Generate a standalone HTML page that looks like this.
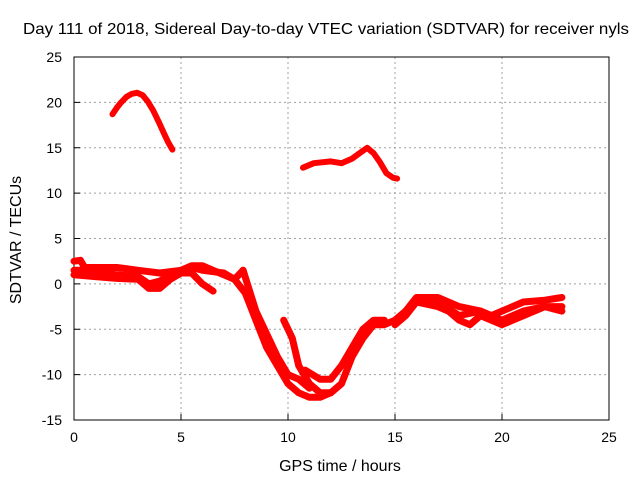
<!DOCTYPE html>
<html><head><meta charset="utf-8"><style>
body{margin:0;background:#fff;font-family:"Liberation Sans",sans-serif}
svg text{font-family:"Liberation Sans",sans-serif;font-size:14px;fill:#000}
</style></head><body>
<svg id="chart" width="640" height="480" viewBox="0 0 640 480">
<rect width="640" height="480" fill="#fff"/>
<g id="grid"></g><g id="axes"></g><g id="series"></g>
<text x="326" y="34" text-anchor="middle" style="font-size:16px" textLength="606" lengthAdjust="spacingAndGlyphs">Day 111 of 2018, Sidereal Day-to-day VTEC variation (SDTVAR) for receiver nyls</text>
<text x="340" y="471" text-anchor="middle" style="font-size:16px">GPS time / hours</text>
<text transform="translate(21,240) rotate(-90)" text-anchor="middle" style="font-size:16px">SDTVAR / TECUs</text>
</svg>
<script>
const xTicks=[0,5,10,15,20,25];
const yTicks=[25,20,15,10,5,0,-5,-10,-15];
const seriesA=[[0,1.5],[0.5,1.5],[1,1.2],[2,1],[3,0.8],[3.5,0],[4,0.3],[4.5,1],[5,1.5],[5.5,1.8],[6,1.5],[7,1.2],[7.5,0.5],[8,-1],[8.5,-4],[9,-7],[9.5,-9],[10,-11],[10.5,-12],[11,-12.5],[11.5,-12.5],[12,-12],[12.5,-11],[13,-8],[13.5,-6],[14,-4.5],[14.5,-4.5],[15,-4],[15.5,-3],[16,-1.8],[17,-2],[18,-3.5],[19,-3],[20,-4],[21,-3],[22,-2.5],[22.8,-2.5]];
const seriesB=[[0,2.5],[0.3,2.6],[0.5,1.8],[1,1.8],[2,1.8],[3,1.5],[4,1.2],[5,1.5],[5.5,2],[6,2],[6.5,1.5],[7,1],[7.5,0.5],[7.9,1.5]];
const seriesC=[[0,1],[1,0.8],[2,0.6],[3,0.5],[3.5,-0.5],[4,-0.5],[4.5,0.5],[5,1.2],[5.5,1.2],[6,0],[6.5,-0.8]];
const seriesD=[[7.9,1.5],[8.5,-3],[9,-5.5],[9.5,-8],[10,-10],[10.5,-10.5],[11,-11.5]];
const seriesE=[[9.8,-4],[10.2,-6],[10.5,-9],[11,-11],[11.5,-12],[12,-12]];
const seriesF=[[10.8,-9.5],[11.5,-10.5],[12,-10.5],[12.5,-9],[13,-7],[13.5,-5],[14,-4],[14.5,-4]];
const seriesG=[[15,-4.5],[15.5,-3.5],[16,-2],[17,-2.5],[17.5,-3],[18,-4],[18.5,-4.5],[19,-3.5],[20,-4.5],[20.5,-4],[21,-3.5],[22,-2.5],[22.8,-3]];
const seriesH=[[15.5,-3],[16,-1.5],[17,-1.5],[18,-2.5],[19,-3],[19.5,-3.5],[20,-3],[21,-2],[22,-1.8],[22.8,-1.5]];
const arcMorning=[[1.8,18.7],[2.0,19.4],[2.2,20],[2.45,20.6],[2.7,20.95],[2.95,21.05],[3.2,20.8],[3.45,20.1],[3.7,19.1],[3.95,17.9],[4.2,16.6],[4.4,15.6],[4.6,14.8]];
const arcAfternoon=[[10.7,12.8],[11.2,13.3],[12,13.5],[12.5,13.3],[13,13.8],[13.4,14.5],[13.7,15],[14,14.4],[14.3,13.4],[14.6,12.2],[14.9,11.7],[15.1,11.6]];
const allSeries=[seriesA,seriesB,seriesC,seriesD,seriesE,seriesF,seriesG,seriesH,arcMorning,arcAfternoon];
const L=74,R=609,T=57,B=420;
const xs=v=>L+(v-0)/25*(R-L);
const ys=v=>B-(v+15)/40*(B-T);
const NS="http://www.w3.org/2000/svg";
const grid=document.getElementById('grid'),axes=document.getElementById('axes'),ser=document.getElementById('series');
function mk(tag,attrs,parent){const e=document.createElementNS(NS,tag);for(const k in attrs)e.setAttribute(k,attrs[k]);parent.appendChild(e);return e;}
xTicks.forEach(t=>{const x=xs(t);
 if(t>0&&t<25){const g=mk('line',{x1:x,x2:x,y1:T,y2:B,stroke:'#a0a0a0','stroke-dasharray':'2,3'},grid);}
 const tk=mk('line',{x1:x,x2:x,y1:B,y2:B-6,stroke:'#000'},axes);
 const tx=mk('text',{x:x,y:B+22,'text-anchor':'middle'},axes);tx.textContent=t;
 
 });
yTicks.forEach(t=>{const y=ys(t);
 if(t>-15&&t<25){const g=mk('line',{x1:L,x2:R,y1:y,y2:y,stroke:'#a0a0a0','stroke-dasharray':'2,3'},grid);}
 const tk=mk('line',{x1:L,x2:L+6,y1:y,y2:y,stroke:'#000'},axes);
 const tx=mk('text',{x:L-12,y:y+5,'text-anchor':'end'},axes);tx.textContent=t;
 
 });
const frame=mk('rect',{x:L,y:T,width:R-L,height:B-T,fill:'none',stroke:'#000'},axes);


allSeries.forEach((s,i)=>{const d=s.map((p,j)=>(j?'L':'M')+xs(p[0]).toFixed(1)+','+ys(p[1]).toFixed(1)).join(' ');
 const p=mk('path',{d:d,fill:'none',stroke:'#ff0000','stroke-width':i>=8?6:7,'stroke-linejoin':'round','stroke-linecap':'round'},ser);
 
 });
</script>
</body></html>
